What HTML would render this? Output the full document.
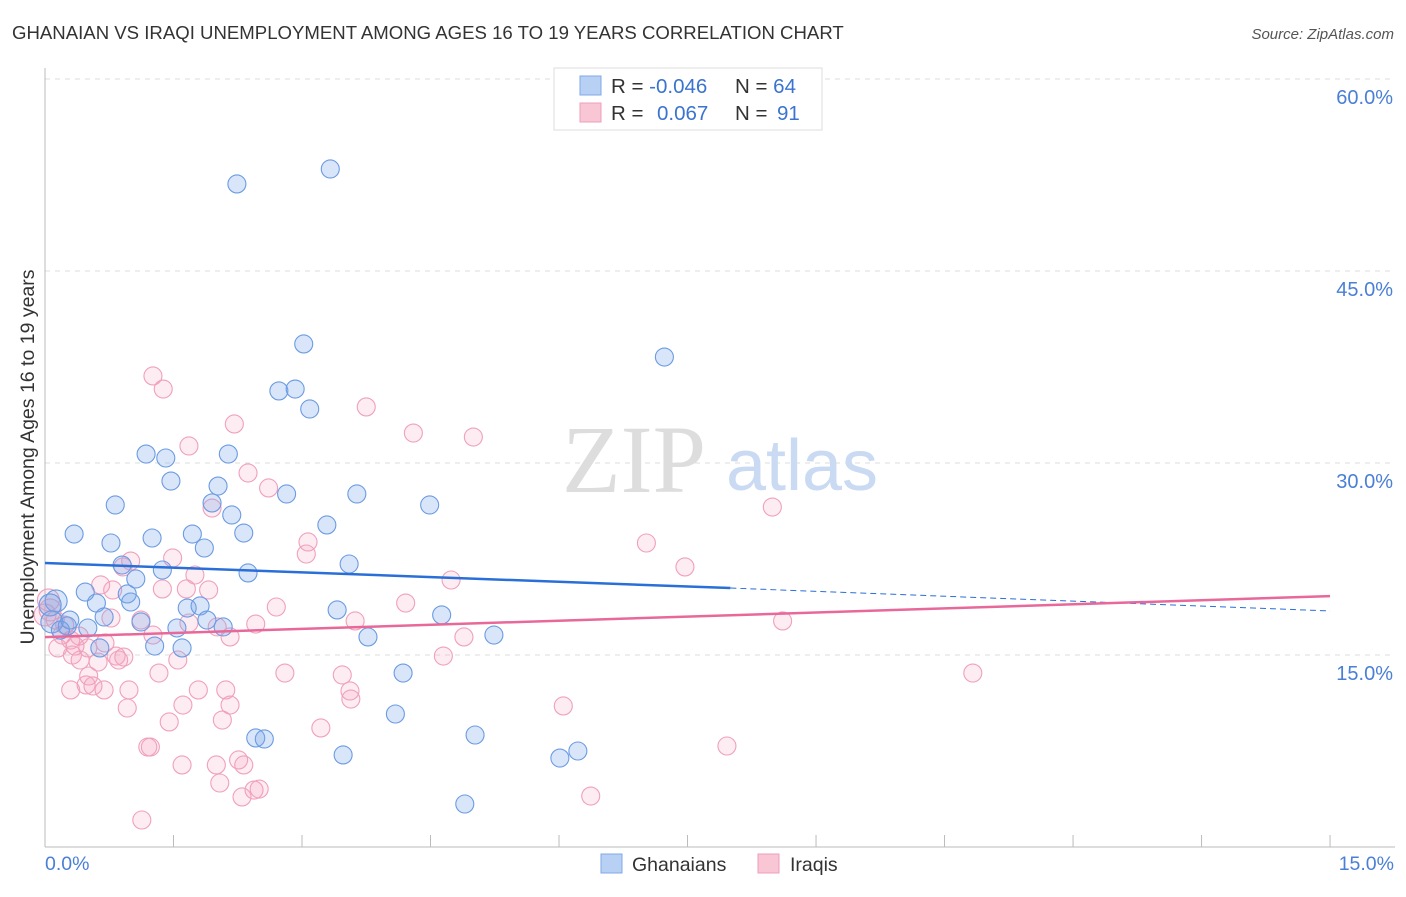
<!DOCTYPE html>
<html><head><meta charset="utf-8"><style>
body{margin:0;background:#fff;font-family:"Liberation Sans",sans-serif}
svg text{font-family:"Liberation Sans",sans-serif}
</style></head><body>
<svg id="chart" width="1406" height="892">
<text x="12" y="39" font-size="18.6" fill="#333">GHANAIAN VS IRAQI UNEMPLOYMENT AMONG AGES 16 TO 19 YEARS CORRELATION CHART</text>
<text x="1394" y="39" font-size="15" fill="#555" font-style="italic" text-anchor="end">Source: ZipAtlas.com</text>
<g id="grid"></g>
<g>
<text x="634" y="492" font-size="96" fill="#ddd" text-anchor="middle" font-family="Liberation Serif" style="font-family:'Liberation Serif',serif">ZIP</text>
<text x="802" y="490" font-size="72" fill="#c9daf2" text-anchor="middle">atlas</text>
</g>
<line x1="45" y1="68" x2="45" y2="847" stroke="#bbb"/>
<line x1="45" y1="847" x2="1395" y2="847" stroke="#bbb"/>
<g id="xticks"></g>
<g id="ylabels"></g>
<text x="45" y="870" font-size="19.5" fill="#4a7fd6">0.0%</text>
<text x="1394" y="870" font-size="19.5" fill="#4a7fd6" text-anchor="end">15.0%</text>
<text transform="translate(34,457) rotate(-90)" font-size="19.5" fill="#333" text-anchor="middle">Unemployment Among Ages 16 to 19 years</text>
<g id="pts"></g>
<g id="trends"></g>
<g>
<rect x="554" y="68" width="268" height="62" fill="#fff" stroke="#ddd"/>
<rect x="580" y="76" width="21" height="19" fill="#b7d0f4" stroke="#7fa8e6"/>
<rect x="580" y="103" width="21" height="19" fill="#f9c6d6" stroke="#ef9fba"/>
<text x="611" y="93" font-size="20.5" fill="#333">R = <tspan fill="#3a74d0">-0.046</tspan></text>
<text x="735" y="93" font-size="20.5" fill="#333">N = <tspan fill="#3a74d0">64</tspan></text>
<text x="611" y="120" font-size="20.5" fill="#333">R = <tspan fill="#3a74d0" x="657">0.067</tspan></text>
<text x="735" y="120" font-size="20.5" fill="#333">N = <tspan fill="#3a74d0" x="777">91</tspan></text>
</g>
<g>
<rect x="601" y="854" width="21" height="19" fill="#b7d0f4" stroke="#7fa8e6"/>
<text x="632" y="871" font-size="19.5" fill="#333">Ghanaians</text>
<rect x="758" y="854" width="21" height="19" fill="#f9c6d6" stroke="#ef9fba"/>
<text x="790" y="871" font-size="19.5" fill="#333">Iraqis</text>
</g>
</svg>
<script>
const yTicks=[15,30,45,60];
const yTickLabels=["15.0%","30.0%","45.0%","60.0%"];
const xTicks=[1.5,3,4.5,6,7.5,9,10.5,12,13.5,15];
const blueX=[2.24,3.33,3.02,7.23,2.73,2.92,3.09,1.18,1.41,2.14,1.47,2.02,1.95,0.82,2.82,3.64,4.49,2.18,0.34,1.72,2.32,3.29,0.77,1.25,1.86,0.9,1.37,3.55,1.06,2.37,0.47,0.96,0.6,1.0,1.66,1.81,3.41,4.63,0.69,1.12,1.89,2.08,0.13,0.08,0.26,0.5,0.18,1.54,1.28,1.6,0.64,3.77,5.24,4.18,2.46,2.56,4.09,5.02,3.48,6.22,6.01,4.9,0.06,0.29];
const blueY=[51.8,52.97,39.3,38.28,35.63,35.78,34.22,30.7,30.39,30.7,28.59,28.2,26.88,26.72,27.58,27.58,26.72,25.94,24.45,24.45,24.53,25.16,23.75,24.14,23.36,22.03,21.64,22.11,20.94,21.41,19.92,19.77,19.06,19.14,18.67,18.83,18.52,18.13,17.97,17.58,17.73,17.19,19.22,17.58,17.27,17.11,16.95,17.11,15.7,15.55,15.55,16.41,16.56,13.59,8.52,8.44,10.39,8.75,7.19,7.5,6.95,3.36,18.91,17.73];
const pinkX=[1.26,1.38,3.75,2.21,4.3,5.0,1.68,2.37,1.95,2.61,8.49,7.02,3.07,3.05,1.49,1.0,0.91,7.47,4.74,1.75,0.65,1.65,1.91,2.7,4.21,1.37,1.12,0.77,3.62,2.46,8.61,1.68,2.01,1.26,2.16,0.3,0.35,0.5,0.7,0.4,4.89,0.83,0.62,0.86,0.92,0.32,1.55,1.33,2.8,3.47,4.65,0.51,0.48,0.56,0.3,0.69,0.98,1.79,3.56,2.11,3.57,0.96,1.61,2.16,6.05,1.45,2.07,3.22,1.2,1.23,7.96,2.26,2.32,1.6,2.0,2.04,2.44,2.5,2.3,6.37,1.13,10.83,0.06,0.12,0.2,0.04,0.15,0.41,0.23,0.79,0.0];
const pinkY=[36.8,35.78,34.38,33.05,32.34,32.03,31.33,29.22,26.48,28.05,26.56,23.75,23.83,22.89,22.58,22.34,21.88,21.88,20.86,21.25,20.47,20.16,20.08,18.75,19.06,20.16,17.73,17.89,17.66,17.42,17.66,17.5,17.19,16.56,16.41,16.17,15.7,15.55,15.94,16.48,16.41,14.92,14.45,14.61,14.84,15.0,14.61,13.59,13.59,13.44,14.92,13.36,12.66,12.58,12.27,12.27,12.27,12.27,12.19,12.27,11.56,10.86,11.09,11.09,11.02,9.77,9.92,9.3,7.81,7.81,7.89,6.8,6.41,6.41,6.41,5.0,4.45,4.53,3.91,3.98,2.11,13.59,18.52,17.73,16.56,19.3,15.55,14.61,17.34,20.08,18.13];
const blueTrend=[22.19,20.23,18.44]; // at x=0, 8, 15
const pinkTrend=[16.4,19.6]; // at x=0, 15
const X=v=>45+v*85.67, Y=v=>847-v*12.8;
const NS="http://www.w3.org/2000/svg";
function mk(tag,parent,attrs){const e=document.createElementNS(NS,tag);for(const k in attrs)e.setAttribute(k,attrs[k]);document.getElementById(parent).appendChild(e);return e;}
yTicks.forEach((t,i)=>{
 const l=mk('line','grid',{x1:45,x2:1395,y1:Y(t),y2:Y(t),stroke:'#ddd','stroke-dasharray':'5,5'});
 
 
 const tx=mk('text','ylabels',{x:1393,y:Y(t)+25,'font-size':20,fill:'#4a7fd6','text-anchor':'end'});
 tx.textContent=yTickLabels[i];
 
 
});
xTicks.forEach(t=>{
 const l=mk('line','xticks',{x1:X(t),x2:X(t),y1:835,y2:847,stroke:'#bbb'});
 
 
});
function dot(x,y,fill,stroke,r){
 const c=mk('circle','pts',{cx:X(x),cy:Y(y),r:r,fill:fill,stroke:stroke,'stroke-width':1.1});
 
 
}
pinkX.forEach((x,i)=>dot(x,pinkY[i],'rgba(244,160,190,0.2)','#f0a0bc',x<0.1?11:9));
blueX.forEach((x,i)=>dot(x,blueY[i],'rgba(120,165,235,0.28)','#6b9be2',(x<0.15)?11:9));
let b=mk('line','trends',{x1:X(0),y1:Y(blueTrend[0]),x2:X(8),y2:Y(blueTrend[1]),stroke:'#2a6fd8','stroke-width':2.5});


b=mk('line','trends',{x1:X(8),y1:Y(blueTrend[1]),x2:X(15),y2:Y(blueTrend[2]),stroke:'#2a6fd8','stroke-width':1,'stroke-dasharray':'6,4'});


b=mk('line','trends',{x1:X(0),y1:Y(pinkTrend[0]),x2:X(15),y2:Y(pinkTrend[1]),stroke:'#e8689a','stroke-width':2.5});


</script>
</body></html>
